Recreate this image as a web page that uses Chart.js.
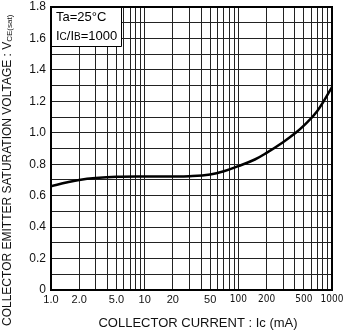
<!DOCTYPE html>
<html>
<head>
<meta charset="utf-8">
<script src="https://cdn.jsdelivr.net/npm/chart.js@4/dist/chart.umd.min.js"></script>
<style>
html, body { margin: 0; padding: 0; background: #fff; }
#wrap { width: 349px; height: 334px; position: relative; }
</style>
</head>
<body>
<div id="wrap"><canvas id="myChart"></canvas></div>
<script>
'use strict';
// Ic (mA) and Vce(sat) (V)
let currents = [1, 1.5, 2, 3, 5, 10, 20, 30, 50, 70, 100, 150, 200, 300, 400, 500, 700, 1000];
let voltages = [0.66, 0.685, 0.70, 0.712, 0.72, 0.722, 0.722, 0.724, 0.735, 0.755, 0.788, 0.83, 0.872, 0.94, 0.995, 1.045, 1.14, 1.29];

let xLabels = [1, 2, 5, 10, 20, 50, 100, 200, 500, 1000];
let yLabels = [0, 0.2, 0.4, 0.6, 0.8, 1.0, 1.2, 1.4, 1.6, 1.8];

let yTitle = 'COLLECTOR EMITTER SATURATION VOLTAGE : V';
let yTitleSub = 'CE(sat)';
let xTitle = 'COLLECTOR CURRENT : Ic (mA)';
// legend lines, [text, small?]
let legendLines = [
    [['Ta=25°C', false]],
    [['I', false], ['C', true], ['/I', false], ['B', true], ['=1000', false]]
];

let FONT = "'Liberation Sans', Arial, sans-serif";

let gridValues = [];
for (let d = 1; d < 1000; d *= 10) {
    for (let k = 1; k < 10; k++) {
        gridValues.push(k * d);
    }
}
gridValues.push(1000);

let points = [];
for (let i = 0; i < currents.length; i++) {
    points.push({ x: currents[i], y: voltages[i] });
}

let extras = {
    id: 'extras',
    afterDraw(chart) {
        let ctx = chart.ctx;
        let a = chart.chartArea;
        ctx.save();
        // frame
        ctx.strokeStyle = '#000';
        ctx.lineWidth = 2;
        ctx.strokeRect(a.left, a.top, a.right - a.left, a.bottom - a.top);

        // condition box
        ctx.fillStyle = '#fff';
        ctx.fillRect(a.left + 1, a.top + 1, 69, 38);
        ctx.lineWidth = 1;
        ctx.beginPath();
        ctx.moveTo(a.left, a.top + 39.5);
        ctx.lineTo(a.left + 70.5, a.top + 39.5);
        ctx.lineTo(a.left + 70.5, a.top);
        ctx.stroke();
        ctx.fillStyle = '#000';
        ctx.textBaseline = 'alphabetic';
        ctx.textAlign = 'left';
        for (let i = 0; i < legendLines.length; i++) {
            let x = a.left + 5;
            let y = a.top + 14 + i * 19;
            legendLines[i].forEach(function (seg) {
                ctx.font = (seg[1] ? '10px ' : '13px ') + FONT;
                ctx.fillText(seg[0], x, y);
                x += ctx.measureText(seg[0]).width;
            });
        }

        // y title, rotated, with subscript
        ctx.translate(8, 326);
        ctx.rotate(-Math.PI / 2);
        ctx.textBaseline = 'middle';
        ctx.font = '12px ' + FONT;
        ctx.fillStyle = '#111';
        ctx.fillText(yTitle, 0, 0);
        let w = ctx.measureText(yTitle).width;
        ctx.font = '8px ' + FONT;
        ctx.fillText(yTitleSub, w, 2);
        ctx.restore();

        // x title
        ctx.save();
        ctx.font = '13px ' + FONT;
        ctx.fillStyle = '#111';
        ctx.textAlign = 'center';
        ctx.textBaseline = 'middle';
        ctx.fillText(xTitle, 198, 323);
        ctx.restore();
    }
};

let ctx = document.getElementById('myChart').getContext('2d');
let myChart = new Chart(ctx, {
    type: 'line',
    data: {
        datasets: [{
            data: points,
            borderColor: '#000',
            borderWidth: 2.5,
            pointRadius: 0,
            fill: false,
            tension: 0.4
        }]
    },
    options: {
        responsive: true,
        maintainAspectRatio: false,
        animation: false,
        layout: { padding: { top: 7, right: 17, left: 0, bottom: 0 } },
        plugins: {
            legend: { display: false },
            tooltip: { enabled: false }
        },
        scales: {
            x: {
                type: 'logarithmic',
                min: 1,
                max: 1000,
                afterBuildTicks: function (scale) {
                    scale.ticks = gridValues.map(function (v) { return { value: v }; });
                },
                afterFit: function (scale) {
                    scale.height = 44;
                    scale.paddingLeft = 0;
                    scale.paddingRight = 0;
                },
                grid: { color: '#222', lineWidth: 1, drawTicks: false },
                border: { display: false },
                ticks: {
                    autoSkip: false,
                    maxRotation: 0,
                    minRotation: 0,
                    padding: 3,
                    color: '#111',
                    font: function (c) {
                        if (c.tick && c.tick.value >= 100) {
                            return { family: "'Liberation Sans Narrow', 'DejaVu Sans Condensed', " + FONT, size: 10 };
                        }
                        return { family: FONT, size: 11 };
                    },
                    callback: function (value) {
                        if (xLabels.indexOf(value) < 0) return '';
                        return value < 10 ? value.toFixed(1) : String(value);
                    }
                }
            },
            y: {
                min: 0,
                max: 1.8,
                afterFit: function (scale) {
                    scale.width = 51;
                    scale.paddingTop = 0;
                    scale.paddingBottom = 0;
                },
                grid: { color: '#222', lineWidth: 1, drawTicks: false },
                border: { display: false },
                ticks: {
                    stepSize: 0.1,
                    autoSkip: false,
                    padding: 5,
                    color: '#111',
                    font: { family: FONT, size: 12 },
                    callback: function (value) {
                        let v = Math.round(value * 10) / 10;
                        if (yLabels.indexOf(v) < 0) return '';
                        return v === 0 ? '0' : v.toFixed(1);
                    }
                }
            }
        }
    },
    plugins: [extras]
});
</script>
</body>
</html>
